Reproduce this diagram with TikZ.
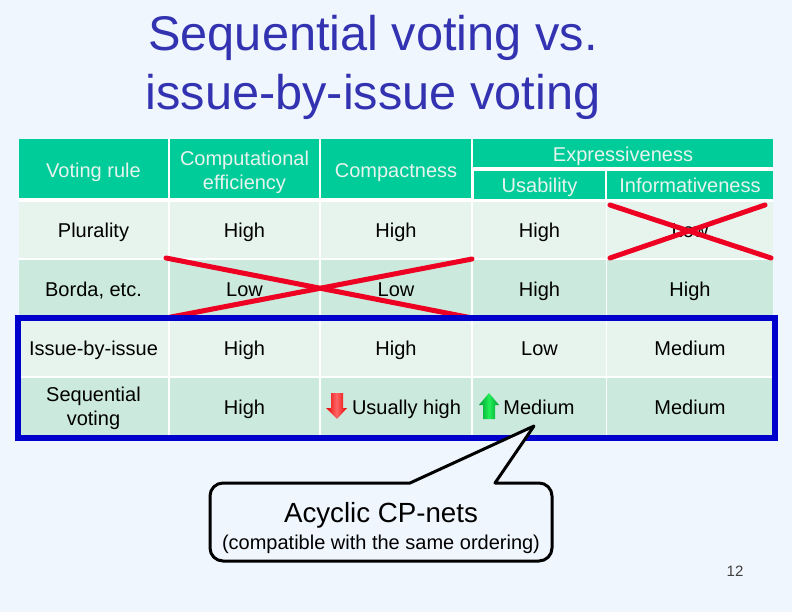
\documentclass[tikz,border=0pt]{standalone}
\usepackage{fontspec}
\setmainfont{Liberation Sans}
\definecolor{slidebg}{HTML}{F0F6FE}
\definecolor{titleblue}{HTML}{3333B2}
\definecolor{headgreen}{HTML}{00CC99}
\definecolor{rowlight}{HTML}{E7F4EE}
\definecolor{rowdark}{HTML}{CCE9DD}
\definecolor{crossred}{HTML}{EE0022}
\definecolor{boxblue}{HTML}{0000CC}
\definecolor{arrowgreen}{HTML}{00A035}
\definecolor{arrowlime}{HTML}{22EE55}
\tikzset{
  cell/.style={inner sep=0pt,text height=16pt,text depth=0pt,font=\fontsize{20}{24}\selectfont},
  head/.style={cell,fill=headgreen,text=rowlight},
  lowhead/.style={head,text height=18pt},
  rowa/.style={cell,fill=rowlight,text=black},
  rowb/.style={cell,fill=rowdark,text=black},
  twoline/.style={inner sep=0pt,align=center,font=\fontsize{20}{24}\selectfont},
  cola/.style={minimum width=149pt},
  colb/.style={minimum width=149pt},
  colc/.style={minimum width=150pt},
  cold/.style={minimum width=133pt},
  cole/.style={minimum width=166pt},
  cross/.style={draw=crossred,line width=5pt,line cap=round},
  bluebox/.style={draw=boxblue,line width=6pt},
  bubble/.style={draw=black,line width=3pt,fill=slidebg,line join=round}
}
\begin{document}
\begin{tikzpicture}[x=1pt,y=-1pt]
\useasboundingbox[fill=slidebg] (0,0) rectangle (792,612);

% title
\node[text=titleblue,font=\fontsize{48.7}{59}\selectfont,align=center,inner sep=0pt] (title) at (373,67.5) {Sequential voting vs.\\issue-by-issue voting};

% white behind the table
\fill[white] (19,139) rectangle (773,435);

% header row
\node[lowhead,cola,minimum height=59pt] (rule) at (93.5,168.5) {Voting rule};
\node[head,colb,minimum height=59pt] (eff) at (244.5,168.5) {};
\node[twoline,text=rowlight] (efftext) at (244.5,172) {Computational\\efficiency};
\node[lowhead,colc,minimum height=59pt] (comp) at (396,168.5) {Compactness};
\node[lowhead,minimum width=300pt,minimum height=28pt] (expr) at (623,153) {Expressiveness};
\node[head,minimum width=131pt,minimum height=28pt] (usab) at (539.5,185) {Usability};
\node[head,cole,minimum height=28pt] (info) at (690,185) {Informativeness};

% Plurality
\node[rowa,cola,minimum height=56pt] (r1a) at (93.5,230) {Plurality};
\node[rowa,colb,minimum height=56pt] (r1b) at (244.5,230) {High};
\node[rowa,colc,minimum height=56pt] (r1c) at (396,230) {High};
\node[rowa,cold,minimum height=56pt] (r1d) at (539.5,230) {High};
\node[rowa,cole,minimum height=56pt] (r1e) at (690,230) {Low};

% Borda
\node[rowb,cola,minimum height=57pt] (r2a) at (93.5,288.5) {Borda, etc.};
\node[rowb,colb,minimum height=57pt] (r2b) at (244.5,288.5) {Low};
\node[rowb,colc,minimum height=57pt] (r2c) at (396,288.5) {Low};
\node[rowb,cold,minimum height=57pt] (r2d) at (539.5,288.5) {High};
\node[rowb,cole,minimum height=57pt] (r2e) at (690,288.5) {High};

% Issue-by-issue
\node[rowa,cola,minimum height=57pt] (r3a) at (93.5,347.5) {Issue-by-issue};
\node[rowa,colb,minimum height=57pt] (r3b) at (244.5,347.5) {High};
\node[rowa,colc,minimum height=57pt] (r3c) at (396,347.5) {High};
\node[rowa,cold,minimum height=57pt] (r3d) at (539.5,347.5) {Low};
\node[rowa,cole,minimum height=57pt] (r3e) at (690,347.5) {Medium};

% Sequential
\node[rowb,cola,minimum height=57pt] (r4a) at (93.5,406.5) {};
\node[twoline] (r4atext) at (93.5,408.5) {Sequential\\voting};
\node[rowb,colb,minimum height=57pt] (r4b) at (244.5,406.5) {High};
\node[rowb,colc,minimum height=57pt] (r4c) at (396,406.5) {};
\node[rowb,cold,minimum height=57pt] (r4d) at (539.5,406.5) {};
\node[rowb,cole,minimum height=57pt] (r4e) at (690,406.5) {Medium};
\node[cell] (usual) at (406.5,406.5) {Usually high};
\node[cell] (medium) at (539,406.5) {Medium};

% little arrows
\shade[left color=red!90!black,right color=red!90!black,middle color=red!60!white] (331,393) -- (343,393) -- (343,408) -- (347,408) -- (337,419) -- (326,408) -- (331,408) -- cycle;
\shade[left color=arrowgreen,right color=arrowgreen,middle color=arrowlime] (489,393) -- (499,405) -- (495,405) -- (495,419) -- (483,419) -- (483,405) -- (479,405) -- cycle;

% crosses
\coordinate (c1) at (166,258);
\coordinate (c2) at (472,318);
\coordinate (c3) at (166,318);
\coordinate (c4) at (472,259);
\coordinate (c5) at (610,205);
\coordinate (c6) at (771,258);
\coordinate (c7) at (610,258);
\coordinate (c8) at (765,205);
\draw[cross] (c1) -- (c2);
\draw[cross] (c3) -- (c4);
\draw[cross] (c5) -- (c6);
\draw[cross] (c7) -- (c8);

% blue frame
\draw[bluebox] (18,318) rectangle (774.5,437.5);

% bubble
\coordinate (tip) at (534,426);
\coordinate (b1) at (210,483);
\coordinate (b2) at (410,483);
\coordinate (b3) at (495,483);
\coordinate (b4) at (552,483);
\coordinate (b5) at (552,561);
\coordinate (b6) at (210,561);
\draw[bubble] (b2) -- (tip) -- (b3) [rounded corners=13pt] -- (b4) -- (b5) -- (b6) -- (b1) [sharp corners] -- cycle;
\node[font=\fontsize{27.7}{32}\selectfont,inner sep=0pt] (acyclic) at (381,515) {Acyclic CP-nets};
\node[font=\fontsize{20}{24}\selectfont,inner sep=0pt] (ordering) at (381,544) {(compatible with the same ordering)};

% page number
\node[font=\fontsize{15}{20}\selectfont,text=black!75,inner sep=0pt] (page) at (735,571) {12};
\end{tikzpicture}
\end{document}
